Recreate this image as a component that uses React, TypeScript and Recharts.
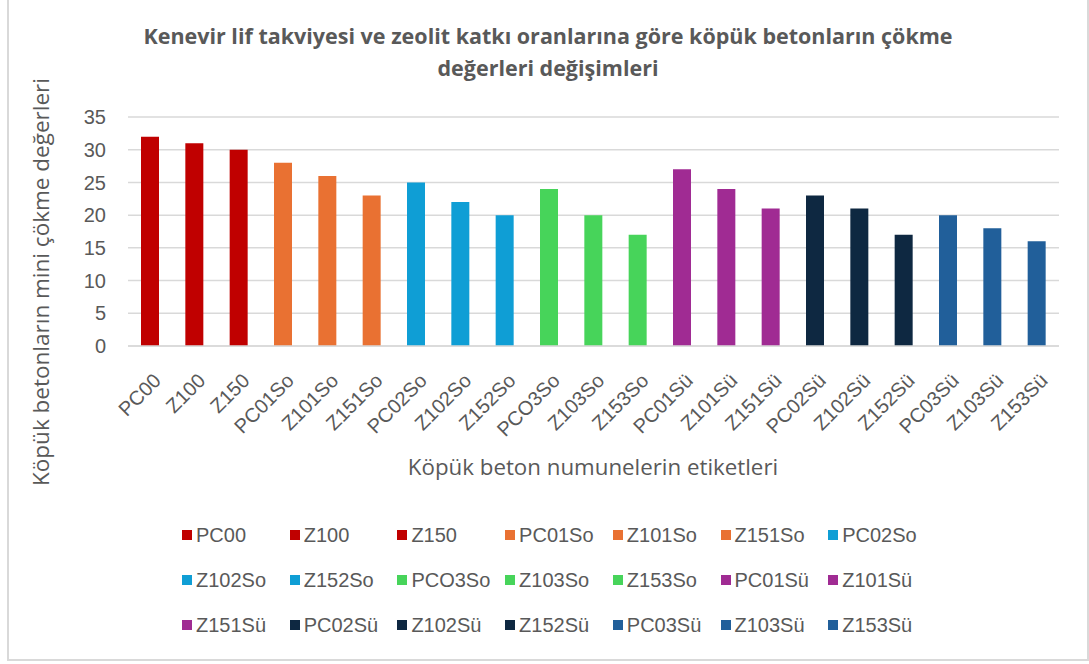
import React from "react";
import { BarChart, Bar, XAxis, YAxis, CartesianGrid, Cell } from "recharts";

const categories = [
  "PC00", "Z100", "Z150",
  "PC01So", "Z101So", "Z151So",
  "PC02So", "Z102So", "Z152So",
  "PCO3So", "Z103So", "Z153So",
  "PC01Sü", "Z101Sü", "Z151Sü",
  "PC02Sü", "Z102Sü", "Z152Sü",
  "PC03Sü", "Z103Sü", "Z153Sü",
];
const values = [32, 31, 30, 28, 26, 23, 25, 22, 20, 24, 20, 17, 27, 24, 21, 23, 21, 17, 20, 18, 16];
const groupColors = ["#C00000", "#E97132", "#0F9ED5", "#47D45A", "#A02B93", "#0E2841", "#215F9A"];
const yTicks = [0, 5, 10, 15, 20, 25, 30, 35];

const titleLine1 = "Kenevir lif takviyesi ve zeolit katkı oranlarına göre köpük betonların çökme";
const titleLine2 = "değerleri değişimleri";
const yTitle = "Köpük betonların mini çökme değerleri";
const xTitle = "Köpük beton numunelerin etiketleri";

const data = categories.map((name, i) => ({ name, value: values[i], color: groupColors[Math.floor(i / 3)] }));

const FONT = "'Liberation Sans', Arial, sans-serif";
const TITLE_FONT = "'Open Sans', 'Noto Sans', sans-serif";
const TXT = "#595959";

const XTick = (props: any) => {
  const { x, y, payload } = props;
  return (
    <g transform={`translate(${x + 12},${y + 36}) rotate(-45)`}>
      <text x={0} y={0} textAnchor="end" fill={TXT} fontSize={20} fontFamily={FONT}>
        {payload.value}
      </text>
    </g>
  );
};

export default function App() {
  return (
    <div style={{ position: "absolute", left: 0, top: 0, width: 1089, height: 664, background: "#fff", fontFamily: FONT }}>
      <div
        style={{
          position: "absolute",
          left: 7,
          top: -2,
          width: 1078,
          height: 659,
          border: "2px solid #D9D9D9",
        }}
      />
      <div
        style={{
          position: "absolute",
          left: 48,
          width: 1000,
          top: 20,
          textAlign: "center",
          fontSize: 21.5,
          fontWeight: "bold",
          color: TXT,
          lineHeight: "32px",
          fontFamily: TITLE_FONT,
          whiteSpace: "nowrap",
        }}
      >
        {titleLine1}
        <br />
        {titleLine2}
      </div>
      <div
        style={{
          position: "absolute",
          left: 40,
          top: 282,
          transform: "translate(-50%, -50%) rotate(-90deg)",
          whiteSpace: "nowrap",
          fontSize: 22.5,
          color: TXT,
          fontFamily: TITLE_FONT,
        }}
      >
        {yTitle}
      </div>
      <div
        style={{
          position: "absolute",
          left: 593,
          top: 466,
          transform: "translate(-50%, -50%)",
          whiteSpace: "nowrap",
          fontSize: 22.3,
          color: TXT,
          fontFamily: TITLE_FONT,
        }}
      >
        {xTitle}
      </div>
      <div style={{ position: "absolute", left: 0, top: 0 }}>
        <BarChart width={1089} height={664} data={data} margin={{ top: 117, right: 30, bottom: 0, left: 0 }}>
          <CartesianGrid vertical={false} stroke="#D9D9D9" strokeWidth={1.5} />
          <XAxis
            dataKey="name"
            interval={0}
            height={318}
            tick={<XTick />}
            tickLine={false}
            axisLine={{ stroke: "#D9D9D9", strokeWidth: 1.5 }}
            tickSize={0}
            tickMargin={0}
          />
          <YAxis
            width={128}
            domain={[0, 35]}
            ticks={yTicks}
            tickLine={false}
            axisLine={false}
            tickSize={0}
            tickMargin={22}
            tick={{ fill: TXT, fontSize: 20, fontFamily: FONT }}
          />
          <Bar dataKey="value" barSize={18} isAnimationActive={false}>
            {data.map((d, i) => (
              <Cell key={i} fill={d.color} />
            ))}
          </Bar>
        </BarChart>
      </div>
      {data.map((d, i) => {
        const row = Math.floor(i / 7);
        const col = i % 7;
        return (
          <div
            key={d.name}
            style={{
              position: "absolute",
              left: 182 + col * 107.7,
              top: 535 + row * 45 - 12,
              height: 24,
              display: "flex",
              alignItems: "center",
              whiteSpace: "nowrap",
              fontSize: 20,
              color: TXT,
            }}
          >
            <span style={{ display: "inline-block", width: 10, height: 10, background: d.color, marginRight: 4 }} />
            {d.name}
          </div>
        );
      })}
    </div>
  );
}
